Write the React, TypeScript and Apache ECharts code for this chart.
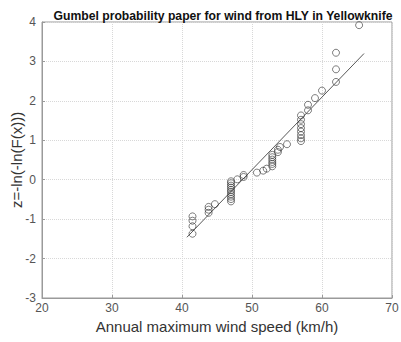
import React, { useEffect, useRef } from "react";
import * as echarts from "echarts";

// Annual maximum wind speed (km/h), sorted
const speeds: number[] = [
  41.5, 41.5, 41.5, 41.5,
  43.8, 43.8, 43.8,
  44.7,
  47, 47, 47, 47, 47, 47, 47, 47, 47, 47,
  47.9,
  48.8, 48.8,
  50.7,
  51.6,
  52.1,
  52.9, 52.9, 52.9, 52.9, 52.9, 52.9,
  53.7, 53.7,
  54.0,
  55.0,
  57, 57, 57, 57, 57, 57, 57, 57,
  58, 58,
  59,
  60,
  62, 62, 62,
  65.3,
];

// Reduced variate z = -ln(-ln(F(x)))
const zValues: number[] = [
  -1.37, -1.18, -1.04, -0.93,
  -0.84, -0.76, -0.69,
  -0.62,
  -0.55, -0.49, -0.43, -0.37, -0.31, -0.26, -0.2, -0.15, -0.09, -0.04,
  0.01,
  0.07, 0.12,
  0.18,
  0.23,
  0.28,
  0.34, 0.4, 0.45, 0.51, 0.57, 0.63,
  0.7, 0.76,
  0.83,
  0.9,
  0.98, 1.05, 1.13, 1.22, 1.31, 1.41, 1.52, 1.63,
  1.76, 1.9,
  2.07,
  2.26,
  2.48, 2.8, 3.22,
  3.92,
];

// Fitted line endpoints
const fitX: number[] = [40.7, 66];
const fitZ: number[] = [-1.46, 3.2];

const xTicks = { min: 20, max: 70, interval: 10 };
const yTicks = { min: -3, max: 4, interval: 1 };

const FONT = "Liberation Sans, Arial, Helvetica, sans-serif";

export default function App() {
  const ref = useRef<HTMLDivElement>(null);

  useEffect(() => {
    if (!ref.current) return;
    const chart = echarts.init(ref.current, undefined, { renderer: "svg" });
    const points = speeds.map((s, i) => [s, zValues[i]]);
    const line = fitX.map((x, i) => [x, fitZ[i]]);
    chart.setOption({
      animation: false,
      backgroundColor: "#ffffff",
      title: {
        text: "Gumbel probability paper for wind from HLY in Yellowknife",
        left: 218,
        textAlign: "center",
        top: 5,
        textStyle: {
          fontFamily: FONT,
          fontSize: 12.2,
          fontWeight: "bold",
          color: "#111",
        },
      },
      grid: {
        left: 42,
        top: 22,
        width: 350,
        height: 276,
        show: true,
        borderColor: "#9a9a9a",
        borderWidth: 1,
        backgroundColor: "transparent",
        containLabel: false,
        outerBoundsMode: "none",
      },
      xAxis: {
        type: "value",
        min: xTicks.min,
        max: xTicks.max,
        interval: xTicks.interval,
        name: "Annual maximum wind speed (km/h)",
        nameLocation: "middle",
        nameGap: 20,
        nameTextStyle: { fontFamily: FONT, fontSize: 15, color: "#333" },
        axisLine: { show: true, onZero: false, lineStyle: { color: "#9a9a9a", width: 1 } },
        axisTick: { show: true, inside: true, length: 3, lineStyle: { color: "#9a9a9a" } },
        axisLabel: { fontFamily: FONT, fontSize: 12, color: "#555", margin: 4 },
        splitLine: { show: true, lineStyle: { color: "#d8d8d8", type: "dotted", width: 1 } },
      },
      yAxis: {
        type: "value",
        min: yTicks.min,
        max: yTicks.max,
        interval: yTicks.interval,
        name: "z=-ln(-ln(F(x)))",
        nameLocation: "middle",
        nameGap: 18,
        nameMoveOverlap: false,
        nameTextStyle: { fontFamily: FONT, fontSize: 15, color: "#333" },
        axisLine: { show: true, onZero: false, lineStyle: { color: "#9a9a9a", width: 1 } },
        axisTick: { show: true, inside: true, length: 3, lineStyle: { color: "#9a9a9a" } },
        axisLabel: { fontFamily: FONT, fontSize: 12, color: "#555", margin: 6 },
        splitLine: { show: true, lineStyle: { color: "#d8d8d8", type: "dotted", width: 1 } },
      },
      series: [
        {
          type: "line",
          data: line,
          symbol: "none",
          lineStyle: { color: "#444", width: 0.9 },
          z: 2,
        },
        {
          type: "scatter",
          data: points,
          symbol: "circle",
          symbolSize: 7,
          itemStyle: { color: "rgba(0,0,0,0)", borderColor: "#333", borderWidth: 0.8 },
          z: 3,
        },
      ],
    });
    return () => chart.dispose();
  }, []);

  return (
    <div
      ref={ref}
      style={{ position: "fixed", left: 0, top: 0, width: 401, height: 342, background: "#fff" }}
    />
  );
}
